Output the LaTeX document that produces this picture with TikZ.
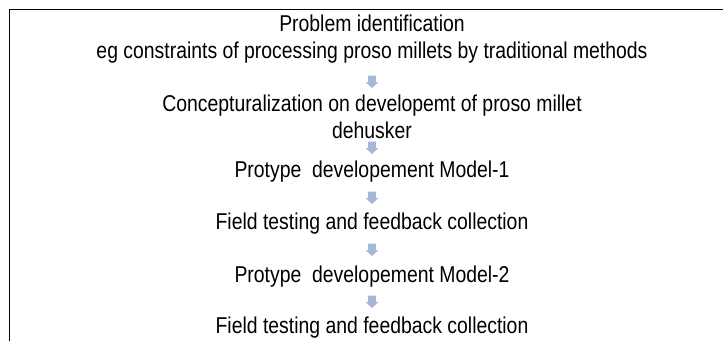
\documentclass[tikz,border=0pt]{standalone}
\usepackage{fontspec}
\setmainfont{Liberation Sans}
\definecolor{arrowblue}{HTML}{A5B8D8}
\tikzset{
  txt/.style={inner sep=0pt, anchor=center, font=\fontsize{19.4}{21}\selectfont, yscale=1.18},
  pics/downarrow/.style={code={
    \fill[arrowblue] (-3.8,-6.5) -- (3.8,-6.5) -- (3.8,0) -- (6.5,0) -- (0,6) -- (-6.5,0) -- (-3.8,0) -- cycle;
  }}
}
\begin{document}
\begin{tikzpicture}[x=1pt,y=-1pt]
\useasboundingbox (0,0) rectangle (723,341);
\coordinate (tl) at (9.5,9.5);
\coordinate (tr) at (723,9.5);
\coordinate (bl) at (9.5,341);
\draw[line width=1.5pt] (tr) -- (tl) -- (bl);
\node[txt] (t1) at (372,23) {Problem identification};
\node[txt] (t2) at (372,53) {eg constraints of processing proso millets by traditional methods};
\node[txt] (t3) at (372,106) {Concepturalization on developemt of proso millet};
\node[txt] (t3b) at (372,130) {dehusker};
\node[txt] (t4) at (372,172) {Protype\ \ developement Model-1};
\node[txt] (t5) at (372,224) {Field testing and feedback collection};
\node[txt] (t6) at (372,277) {Protype\ \ developement Model-2};
\node[txt] (t7) at (372,328) {Field testing and feedback collection};
\pic (a1) at (372,82) {downarrow};
\pic (a2) at (372,148) {downarrow};
\pic (a3) at (372,198) {downarrow};
\pic (a4) at (372,250) {downarrow};
\pic (a5) at (372,302) {downarrow};
\end{tikzpicture}
\end{document}
